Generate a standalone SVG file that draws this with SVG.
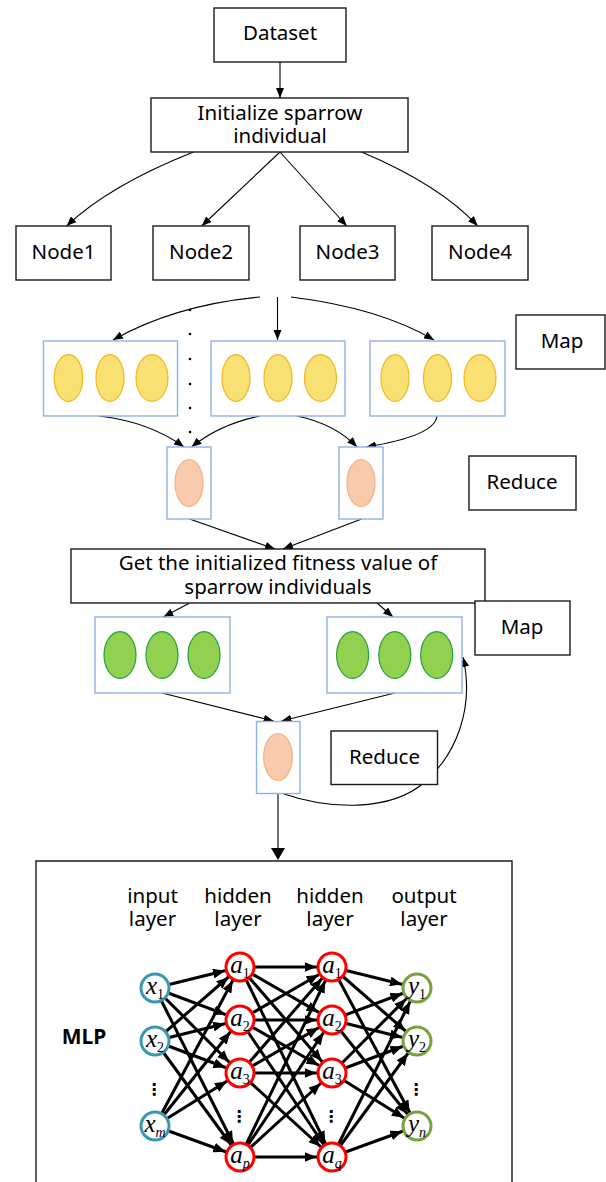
<svg xmlns="http://www.w3.org/2000/svg" width="606" height="1182" viewBox="0 0 606 1182">
<style>
.box{fill:#fff;stroke:#1a1a1a;stroke-width:1.4}
.bbox{fill:#fff;stroke:#8eb4e3;stroke-width:1.4}
.t{font-family:"Noto Sans","Open Sans",sans-serif;font-size:20.5px;fill:#000;text-anchor:middle}
.c{fill:none;stroke:#000;stroke-width:1.1}
.y{fill:#f8e073;stroke:#f2b619;stroke-width:1.2}
.o{fill:#f8cbad;stroke:#f4b183;stroke-width:1.2}
.g{fill:#92d050;stroke:#1fa03c;stroke-width:1.2}
.e{stroke:#000;stroke-width:3;marker-end:url(#m)}
.ni{fill:#fff;stroke:#3a97b0;stroke-width:3}
.nh{fill:#fff;stroke:#ff0000;stroke-width:3}
.no{fill:#fff;stroke:#76a33e;stroke-width:3}
.v{font-family:"Liberation Serif","Times New Roman",serif;font-style:italic;font-size:25px;text-anchor:middle;fill:#000}
.s{font-size:14px}
.n{font-size:14px;font-style:normal}
.d{font-family:"DejaVu Sans",sans-serif;font-size:16px;font-weight:bold;text-anchor:middle;fill:#000}
</style>
<defs>
<marker id="a" markerUnits="userSpaceOnUse" markerWidth="10" markerHeight="8" refX="10" refY="4" orient="auto"><path d="M0,0L10,4L0,8z" fill="#000"/></marker>
<marker id="m" markerUnits="userSpaceOnUse" markerWidth="12" markerHeight="10" refX="27.5" refY="5" orient="auto"><path d="M0,0L12,5L0,10z" fill="#000"/></marker>
</defs>

<g id="connectors">
<path class="c" d="M280,62L280,98" marker-end="url(#a)"/>
<path class="c" d="M193.5,152Q110,185 66.5,226" marker-end="url(#a)"/>
<path class="c" d="M280,152L201.7,226" marker-end="url(#a)"/>
<path class="c" d="M280,152L346.8,226" marker-end="url(#a)"/>
<path class="c" d="M361.6,152Q440,185 477.7,226" marker-end="url(#a)"/>
<path class="c" d="M260,297Q175,305 113,340" marker-end="url(#a)"/>
<path class="c" d="M277.5,297L277.5,340" marker-end="url(#a)"/>
<path class="c" d="M291,297Q380,308 434,340" marker-end="url(#a)"/>
<path class="c" d="M99,416Q150,422 184,447" marker-end="url(#a)"/>
<path class="c" d="M260,416Q220,424 191.5,447" marker-end="url(#a)"/>
<path class="c" d="M297,416Q335,424 357,447" marker-end="url(#a)"/>
<path class="c" d="M437,416Q435,436 366,447" marker-end="url(#a)"/>
<path class="c" d="M189.6,519L275,549" marker-end="url(#a)"/>
<path class="c" d="M361.6,519L283,549" marker-end="url(#a)"/>
<path class="c" d="M189.6,603L163.4,617" marker-end="url(#a)"/>
<path class="c" d="M377,603L393,617" marker-end="url(#a)"/>
<path class="c" d="M162,693L273.6,721" marker-end="url(#a)"/>
<path class="c" d="M394.8,693L281.5,721" marker-end="url(#a)"/>
<path class="c" d="M281,793C330,810 390,812 425,782C455,755 475,710 463,657" marker-end="url(#a)"/>
<path class="c" d="M278,793L278,848"/>
<path d="M271,848L285,848L278,860z" fill="#000"/>
<g id="mlp-edges">
<line class="e" x1="155" y1="988" x2="240" y2="967"/>
<line class="e" x1="155" y1="988" x2="240" y2="1020"/>
<line class="e" x1="155" y1="988" x2="240" y2="1073"/>
<line class="e" x1="155" y1="988" x2="240" y2="1157"/>
<line class="e" x1="155" y1="1041" x2="240" y2="967"/>
<line class="e" x1="155" y1="1041" x2="240" y2="1020"/>
<line class="e" x1="155" y1="1041" x2="240" y2="1073"/>
<line class="e" x1="155" y1="1041" x2="240" y2="1157"/>
<line class="e" x1="155" y1="1126" x2="240" y2="967"/>
<line class="e" x1="155" y1="1126" x2="240" y2="1020"/>
<line class="e" x1="155" y1="1126" x2="240" y2="1073"/>
<line class="e" x1="155" y1="1126" x2="240" y2="1157"/>
<line class="e" x1="240" y1="967" x2="332" y2="967"/>
<line class="e" x1="240" y1="967" x2="332" y2="1020"/>
<line class="e" x1="240" y1="967" x2="332" y2="1073"/>
<line class="e" x1="240" y1="967" x2="332" y2="1157"/>
<line class="e" x1="240" y1="1020" x2="332" y2="967"/>
<line class="e" x1="240" y1="1020" x2="332" y2="1020"/>
<line class="e" x1="240" y1="1020" x2="332" y2="1073"/>
<line class="e" x1="240" y1="1020" x2="332" y2="1157"/>
<line class="e" x1="240" y1="1073" x2="332" y2="967"/>
<line class="e" x1="240" y1="1073" x2="332" y2="1020"/>
<line class="e" x1="240" y1="1073" x2="332" y2="1073"/>
<line class="e" x1="240" y1="1073" x2="332" y2="1157"/>
<line class="e" x1="240" y1="1157" x2="332" y2="967"/>
<line class="e" x1="240" y1="1157" x2="332" y2="1020"/>
<line class="e" x1="240" y1="1157" x2="332" y2="1073"/>
<line class="e" x1="240" y1="1157" x2="332" y2="1157"/>
<line class="e" x1="332" y1="967" x2="417" y2="988"/>
<line class="e" x1="332" y1="967" x2="417" y2="1041"/>
<line class="e" x1="332" y1="967" x2="417" y2="1126"/>
<line class="e" x1="332" y1="1020" x2="417" y2="988"/>
<line class="e" x1="332" y1="1020" x2="417" y2="1041"/>
<line class="e" x1="332" y1="1020" x2="417" y2="1126"/>
<line class="e" x1="332" y1="1073" x2="417" y2="988"/>
<line class="e" x1="332" y1="1073" x2="417" y2="1041"/>
<line class="e" x1="332" y1="1073" x2="417" y2="1126"/>
<line class="e" x1="332" y1="1157" x2="417" y2="988"/>
<line class="e" x1="332" y1="1157" x2="417" y2="1041"/>
<line class="e" x1="332" y1="1157" x2="417" y2="1126"/>
</g>
</g>

<g id="dataset"><rect class="box" x="214" y="8" width="132" height="54"/><text class="t" x="280" y="40">Dataset</text></g>
<g id="init"><rect class="box" x="151" y="98" width="257" height="54"/><text class="t"><tspan x="280" y="120">Initialize sparrow</tspan><tspan x="280" y="143">individual</tspan></text></g>
<g id="node1"><rect class="box" x="16" y="226" width="95" height="54"/><text class="t" x="63.5" y="259">Node1</text></g>
<g id="node2"><rect class="box" x="153" y="226" width="96" height="54"/><text class="t" x="201" y="259">Node2</text></g>
<g id="node3"><rect class="box" x="300" y="226" width="95" height="54"/><text class="t" x="347.5" y="259">Node3</text></g>
<g id="node4"><rect class="box" x="432" y="226" width="96" height="54"/><text class="t" x="480" y="259">Node4</text></g>

<g id="dots" fill="#000">
<circle cx="190" cy="310" r="1.3"/><circle cx="190" cy="334" r="1.3"/><circle cx="190" cy="359" r="1.3"/><circle cx="190" cy="384" r="1.3"/><circle cx="190" cy="408" r="1.3"/><circle cx="190" cy="432" r="1.3"/>
</g>

<g id="map1"><rect class="bbox" x="43.5" y="341" width="134" height="75"/><ellipse class="y" cx="68.5" cy="378" rx="14.3" ry="23.3"/><ellipse class="y" cx="110" cy="378" rx="14" ry="23.3"/><ellipse class="y" cx="152" cy="378" rx="16" ry="23.3"/></g>
<g id="map2"><rect class="bbox" x="211" y="341" width="134" height="75"/><ellipse class="y" cx="236" cy="378" rx="14" ry="23.3"/><ellipse class="y" cx="278" cy="378" rx="14" ry="23.3"/><ellipse class="y" cx="320.5" cy="378" rx="16" ry="23.3"/></g>
<g id="map3"><rect class="bbox" x="370" y="341" width="135" height="75"/><ellipse class="y" cx="395" cy="378" rx="14" ry="23.3"/><ellipse class="y" cx="437.5" cy="378" rx="14" ry="23.3"/><ellipse class="y" cx="480" cy="378" rx="16" ry="23.3"/></g>
<g id="map-label1"><rect class="box" x="516" y="315" width="89" height="54"/><text class="t" x="562" y="348">Map</text></g>

<g id="reduce1"><rect class="bbox" x="167" y="447" width="44" height="72"/><ellipse class="o" cx="189" cy="483" rx="14" ry="23.5"/></g>
<g id="reduce2"><rect class="bbox" x="339" y="447" width="44" height="72"/><ellipse class="o" cx="361" cy="483" rx="14" ry="23.5"/></g>
<g id="reduce-label1"><rect class="box" x="469" y="456" width="107" height="54"/><text class="t" x="522" y="489">Reduce</text></g>

<g id="fitness"><rect class="box" x="71" y="549" width="414" height="54"/><text class="t"><tspan x="278" y="570">Get the initialized fitness value of</tspan><tspan x="278" y="594">sparrow individuals</tspan></text></g>
<g id="green1"><rect class="bbox" x="95" y="617" width="135" height="76"/><ellipse class="g" cx="120" cy="655" rx="16" ry="23.3"/><ellipse class="g" cx="162" cy="655" rx="16" ry="23.3"/><ellipse class="g" cx="204" cy="655" rx="16" ry="23.3"/></g>
<g id="green2"><rect class="bbox" x="327" y="617" width="135" height="76"/><ellipse class="g" cx="352.6" cy="655" rx="16" ry="23.3"/><ellipse class="g" cx="394.8" cy="655" rx="16" ry="23.3"/><ellipse class="g" cx="436.7" cy="655" rx="16" ry="23.3"/></g>
<g id="map-label2"><rect class="box" x="475" y="601" width="95" height="54"/><text class="t" x="522" y="634">Map</text></g>
<g id="reduce3"><rect class="bbox" x="256.5" y="721.5" width="43.5" height="72"/><ellipse class="o" cx="278" cy="757" rx="14.3" ry="23.5"/></g>
<g id="reduce-label2"><rect class="box" x="331" y="731" width="106.5" height="53.5"/><text class="t" x="384.5" y="764">Reduce</text></g>

<g id="mlp-frame"><path d="M36,1190L36,861L512,861L512,1190" fill="none" stroke="#1a1a1a" stroke-width="1.4"/>
<text x="84" y="1044" style="font-family:'Noto Sans','Open Sans',sans-serif;font-size:21px;font-weight:bold;text-anchor:middle">MLP</text>
<text class="t"><tspan x="152.5" y="903">input</tspan><tspan x="152.5" y="926">layer</tspan></text>
<text class="t"><tspan x="238" y="903">hidden</tspan><tspan x="238" y="926">layer</tspan></text>
<text class="t"><tspan x="330" y="903">hidden</tspan><tspan x="330" y="926">layer</tspan></text>
<text class="t"><tspan x="424" y="903">output</tspan><tspan x="424" y="926">layer</tspan></text>
</g>

<g id="input-layer">
<circle class="ni" cx="155" cy="988" r="14"/><text class="v" x="155" y="994">x<tspan class="n" dy="5">1</tspan></text>
<circle class="ni" cx="155" cy="1041" r="14"/><text class="v" x="155" y="1047">x<tspan class="n" dy="5">2</tspan></text>
<text class="d" x="154" y="1095">⋮</text>
<circle class="ni" cx="155" cy="1126" r="14"/><text class="v" x="155" y="1132">x<tspan class="s" dy="5">m</tspan></text>
</g>
<g id="hidden-layer-1">
<circle class="nh" cx="240" cy="967" r="14"/><text class="v" x="240" y="973">a<tspan class="n" dy="5">1</tspan></text>
<circle class="nh" cx="240" cy="1020" r="14"/><text class="v" x="240" y="1026">a<tspan class="n" dy="5">2</tspan></text>
<circle class="nh" cx="240" cy="1073" r="14"/><text class="v" x="240" y="1079">a<tspan class="n" dy="5">3</tspan></text>
<text class="d" x="239" y="1122">⋮</text>
<circle class="nh" cx="240" cy="1157" r="14"/><text class="v" x="240" y="1163">a<tspan class="s" dy="5">p</tspan></text>
</g>
<g id="hidden-layer-2">
<circle class="nh" cx="332" cy="967" r="14"/><text class="v" x="332" y="973">a<tspan class="n" dy="5">1</tspan></text>
<circle class="nh" cx="332" cy="1020" r="14"/><text class="v" x="332" y="1026">a<tspan class="n" dy="5">2</tspan></text>
<circle class="nh" cx="332" cy="1073" r="14"/><text class="v" x="332" y="1079">a<tspan class="n" dy="5">3</tspan></text>
<text class="d" x="331" y="1122">⋮</text>
<circle class="nh" cx="332" cy="1157" r="14"/><text class="v" x="332" y="1163">a<tspan class="s" dy="5">q</tspan></text>
</g>
<g id="output-layer">
<circle class="no" cx="417" cy="988" r="14"/><text class="v" x="417" y="994">y<tspan class="n" dy="5">1</tspan></text>
<circle class="no" cx="417" cy="1041" r="14"/><text class="v" x="417" y="1047">y<tspan class="n" dy="5">2</tspan></text>
<text class="d" x="416" y="1095">⋮</text>
<circle class="no" cx="417" cy="1126" r="14"/><text class="v" x="417" y="1132">y<tspan class="s" dy="5">n</tspan></text>
</g>
</svg>
